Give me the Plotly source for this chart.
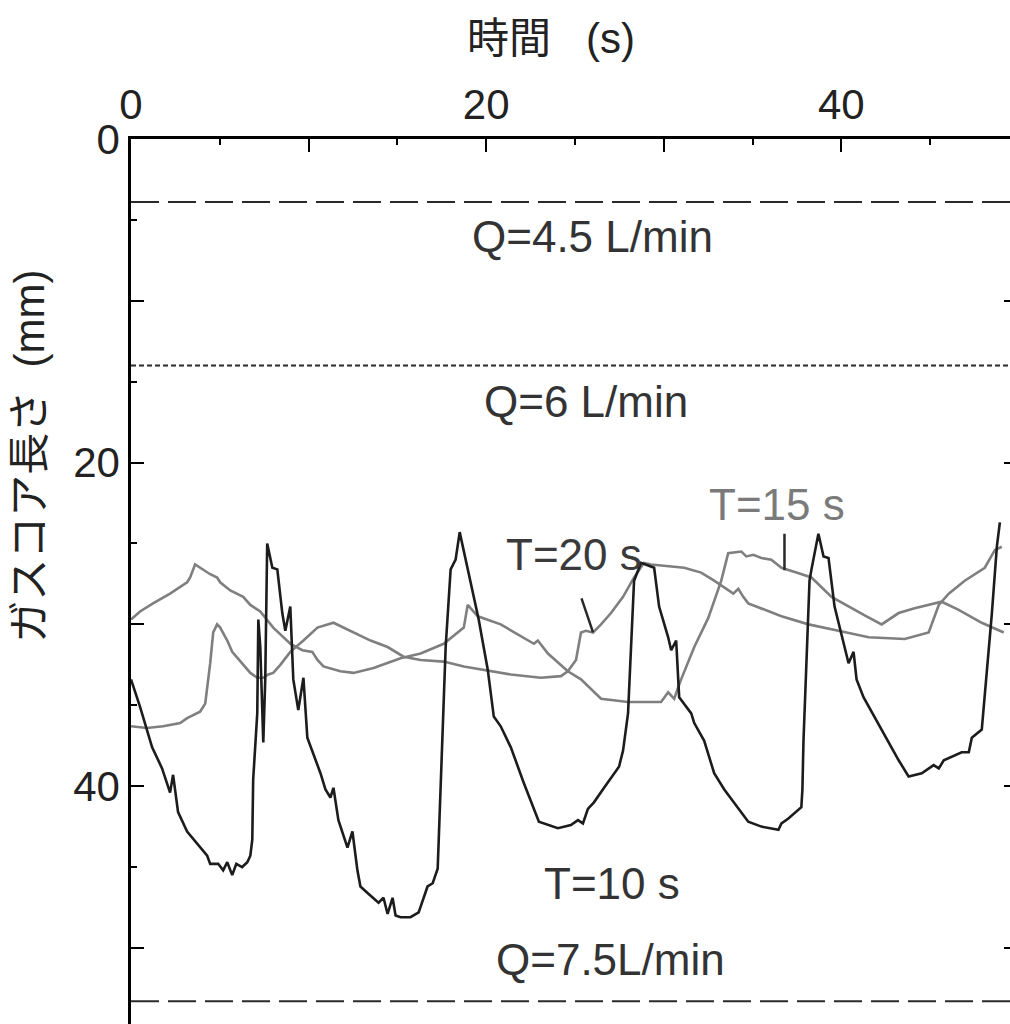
import plotly.graph_objects as go

# ---------------- data ----------------
# T=10 s  (black)
t10_time = [0.0, 0.51, 1.19, 1.75, 2.20, 2.37, 2.65, 3.16, 4.29, 4.46, 4.91, 5.19, 5.42, 5.70, 5.93,
            6.26, 6.55, 6.72, 6.83, 6.88, 7.11, 7.17, 7.28, 7.45, 7.56, 7.67, 7.96, 8.24, 8.52, 8.69,
            8.97, 9.14, 9.42, 9.71, 9.93, 10.67, 10.95, 11.23, 11.40, 11.68, 12.19, 12.47, 12.75,
            12.92, 13.32, 13.94, 14.22, 14.45, 14.73, 14.90, 15.18, 15.74, 16.20, 16.70, 16.99,
            17.27, 17.33, 17.44, 17.72, 18.00, 18.28, 18.51, 19.02, 19.58, 20.09, 20.43, 20.82,
            21.39, 22.12, 22.97, 24.04, 24.77, 25.17, 25.45, 25.73, 26.07, 26.64, 27.48, 27.71,
            27.99, 28.33, 28.72, 29.46, 29.74, 30.25, 30.42, 30.70, 30.87, 31.55, 31.72, 32.28,
            32.84, 33.41, 34.37, 34.76, 35.50, 36.46, 36.63, 37.02, 37.75, 37.81, 37.87, 38.21,
            38.32, 38.71, 39.00, 39.28, 39.62, 40.12, 40.41, 40.69, 40.86, 41.25, 42.27, 43.23,
            43.79, 44.53, 45.20, 45.49, 45.77, 46.78, 47.18, 47.35, 47.91, 48.08, 48.48, 48.76, 48.93]
t10_depth = [33.4, 35.1, 37.6, 38.9, 40.4, 39.3, 41.6, 42.8, 44.3, 44.8, 44.8, 45.2, 44.7, 45.5, 44.8,
             45.0, 44.7, 44.3, 43.3, 39.6, 35.5, 29.7, 31.4, 37.3, 33.4, 25.0, 26.5, 26.6, 29.3, 30.4,
             28.9, 33.4, 35.3, 33.3, 37.0, 39.2, 40.2, 40.7, 40.1, 42.1, 43.8, 42.8, 45.2,
             46.2, 46.6, 47.2, 46.9, 47.9, 46.9, 48.0, 48.1, 48.1, 47.8, 46.2, 46.0,
             45.1, 43.3, 39.6, 31.4, 26.6, 26.0, 24.3, 26.9, 29.7, 32.8, 35.7, 36.3,
             37.6, 39.8, 42.2, 42.6, 42.4, 42.1, 42.3, 41.4, 41.0, 40.1, 38.8, 37.8,
             35.5, 27.3, 26.2, 26.5, 28.9, 30.8, 31.6, 31.0, 34.5, 35.5, 36.1, 37.2,
             39.2, 40.2, 41.6, 42.2, 42.5, 42.7, 42.3, 42.0, 41.3, 40.2, 37.2, 27.3,
             26.6, 24.4, 25.8, 25.9, 28.9, 31.2, 32.4, 31.7, 33.4, 34.5, 36.5, 38.4,
             39.4, 39.2, 38.7, 38.9, 38.4, 37.9, 37.9, 37.0, 36.5, 34.5, 29.3, 25.2, 23.7]

# T=15 s  (gray)
t15_time = [0.0, 0.51, 1.24, 2.20, 3.16, 3.33, 3.61, 3.89, 4.46, 4.85, 5.02, 5.59, 6.32, 6.72, 7.28,
            8.01, 8.97, 9.65, 10.21, 10.50, 10.84, 11.79, 12.53, 13.66, 15.18, 16.31, 17.61, 18.74,
            18.96, 19.53, 20.82, 22.69, 22.91, 23.48, 24.60, 25.34, 26.47, 27.99, 29.85, 30.25,
            30.59, 30.81, 30.98, 31.72, 32.51, 33.24, 33.63, 34.37, 34.65, 35.04, 35.50, 36.06,
            36.63, 37.47, 38.32, 39.45, 40.41, 41.42, 42.27, 43.23, 44.13, 45.65, 46.61, 47.91, 49.15]
t15_depth = [29.7, 29.2, 28.7, 28.1, 27.4, 27.1, 26.3, 26.5, 26.9, 27.1, 27.4, 27.9, 28.3, 28.8, 29.2,
             30.2, 31.2, 31.6, 31.7, 32.2, 32.6, 32.9, 33.0, 32.7, 32.1, 31.8, 31.2, 30.2,
             28.8, 29.5, 30.0, 31.2, 31.0, 31.8, 32.9, 33.4, 34.6, 34.8, 34.8, 34.2,
             34.6, 33.9, 33.4, 31.4, 29.6, 27.3, 25.6, 25.5, 25.8, 25.7, 25.9, 26.0,
             26.5, 26.8, 27.1, 28.3, 28.9, 29.5, 30.0, 29.3, 29.0, 28.6, 29.1, 29.9, 30.5]

# T=20 s  (gray)
t20_time = [0.0, 0.90, 1.81, 2.20, 2.77, 3.16, 3.89, 4.18, 4.46, 4.63, 4.85, 5.02, 5.42, 5.70, 6.15,
            6.72, 7.11, 7.45, 7.73, 8.01, 8.41, 8.97, 9.71, 10.50, 11.40, 12.36, 13.49, 14.45,
            15.35, 16.31, 17.61, 18.74, 19.86, 21.39, 23.08, 24.21, 24.60, 25.06, 25.34, 25.62,
            26.02, 26.47, 27.03, 27.71, 28.33, 28.89, 29.29, 31.15, 32.11, 32.84, 33.92, 34.20,
            34.48, 34.76, 36.63, 38.15, 39.84, 41.54, 43.57, 44.92, 45.49, 46.05, 46.95, 48.08,
            48.65, 49.04]
t20_depth = [36.3, 36.4, 36.3, 36.2, 36.1, 35.8, 35.4, 34.9, 32.4, 30.5, 30.0, 30.2, 31.0, 31.7, 32.3,
             33.0, 33.3, 33.3, 33.1, 33.0, 32.5, 31.7, 31.0, 30.2, 29.9, 30.4, 31.0, 31.4,
             32.0, 32.2, 32.3, 32.6, 32.8, 33.1, 33.3, 33.2, 32.9, 32.2, 30.5, 30.4,
             30.5, 30.0, 29.3, 28.3, 27.1, 26.2, 26.3, 26.5, 26.8, 27.3, 28.1, 27.8,
             28.3, 28.7, 29.5, 30.0, 30.4, 30.8, 30.9, 30.5, 28.8, 28.1, 27.3, 26.5,
             25.4, 25.2]

# Flow-rate reference levels
q_levels = [3.9, 14.0, 53.3]
q_labels = ["Q=4.5 L/min", "Q=6 L/min", "Q=7.5L/min"]
q_label_pos = [(26.0, 6.05), (25.6, 16.25), (27.0, 50.7)]
q_dash = ["28px,9px", "5px,3px", "28px,9px"]

period_labels = ["T=10 s", "T=15 s", "T=20 s"]
period_label_pos = [(27.1, 46.0), (36.4, 22.6), (24.95, 25.7)]
period_label_color = ["#333333", "#7a7a7a", "#3a3a3a"]
# pointer lines (tail -> head) for T=15 s and T=20 s
pointer_tail = [(36.8, 24.3), (25.34, 28.3)]
pointer_head = [(36.8, 26.65), (26.02, 30.5)]

x_ticks = [0, 10, 20, 30, 40]
x_ticktext = ["0", "", "20", "", "40"]
y_ticks = [0, 10, 20, 30, 40, 50]
y_ticktext = ["0", "", "20", "", "40", ""]

FONT = "Liberation Sans, Arial, Noto Sans CJK JP, sans-serif"
GRAY = "#7f7f7f"

fig = go.Figure()
fig.add_trace(go.Scatter(x=t15_time, y=t15_depth, mode="lines",
                         line=dict(color=GRAY, width=2.6), name="T=15 s", showlegend=False))
fig.add_trace(go.Scatter(x=t20_time, y=t20_depth, mode="lines",
                         line=dict(color=GRAY, width=2.6), name="T=20 s", showlegend=False))
fig.add_trace(go.Scatter(x=t10_time, y=t10_depth, mode="lines",
                         line=dict(color="#1c1c1c", width=2.6), name="T=10 s", showlegend=False))
# empty trace to host right mirror ticks
fig.add_trace(go.Scatter(x=[], y=[], yaxis="y2", showlegend=False, hoverinfo="skip"))

for lvl, dash in zip(q_levels, q_dash):
    fig.add_shape(type="line", xref="paper", x0=0, x1=1, yref="y", y0=lvl, y1=lvl,
                  line=dict(color="#2a2a2a", width=2, dash=dash))

annotations = []
for txt, (x, y) in zip(q_labels, q_label_pos):
    annotations.append(dict(x=x, y=y, xref="x", yref="y", text=txt, showarrow=False,
                            font=dict(family=FONT, size=44, color="#333333")))
for txt, (x, y), c in zip(period_labels, period_label_pos, period_label_color):
    annotations.append(dict(x=x, y=y, xref="x", yref="y", text=txt, showarrow=False,
                            font=dict(family=FONT, size=44, color=c)))
for (tx, ty), (hx, hy) in zip(pointer_tail, pointer_head):
    annotations.append(dict(x=hx, y=hy, ax=tx, ay=ty, xref="x", yref="y", axref="x", ayref="y",
                            text="", showarrow=True, arrowhead=0, arrowwidth=2.5,
                            arrowcolor="#2a2a2a", standoff=0, startstandoff=0))
# y-axis title
annotations.append(dict(x=-0.115, y=0.642, xref="paper", yref="paper",
                        xanchor="center", yanchor="middle",
                        text="ガスコア長さ\u00a0\u00a0(mm)", textangle=-90, showarrow=False,
                        font=dict(family=FONT, size=42, color="#222222")))

axis_common = dict(showline=True, linecolor="black", linewidth=2.5, showgrid=False, zeroline=False,
                   ticks="inside", ticklen=13, tickwidth=2, tickcolor="black",
                   tickfont=dict(family=FONT, size=42, color="#222222"),
                   minor=dict(ticks="inside", ticklen=6, tickwidth=2, tickcolor="black",
                              tick0=0, dtick=5, showgrid=False))

fig.update_layout(
    width=1010, height=1024,
    margin=dict(l=131, r=0, t=139, b=0),
    paper_bgcolor="white", plot_bgcolor="white",
    title=dict(text="時間\u00a0\u00a0\u00a0(s)", x=551 / 1010, xanchor="center",
               y=1 - 38 / 1024, yanchor="middle", yref="container",
               font=dict(family=FONT, size=42, color="#222222")),
    xaxis=dict(side="top", range=[0, 49.5], tickmode="array", tickvals=x_ticks,
               ticktext=x_ticktext, **axis_common),
    yaxis=dict(range=[54.7, 0], tickmode="array", tickvals=y_ticks, ticktext=y_ticktext,
               **axis_common),
    yaxis2=dict(overlaying="y", side="right", range=[54.7, 0], showline=False, showgrid=False,
                zeroline=False, ticks="inside", ticklen=6, tickwidth=2, tickcolor="black",
                tickmode="array", tickvals=[10, 20, 30, 40, 50], showticklabels=False),
    annotations=annotations,
    showlegend=False,
)

fig.write_html("out.html")
